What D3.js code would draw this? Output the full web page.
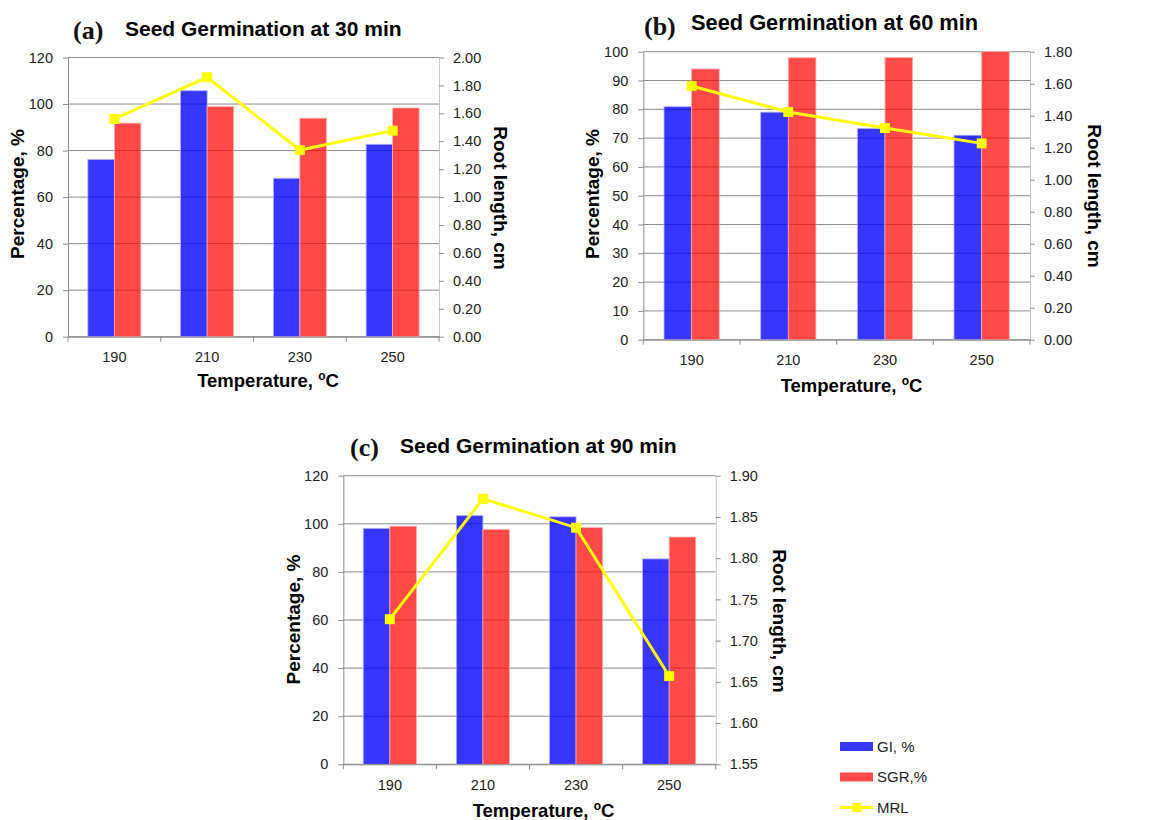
<!DOCTYPE html>
<html>
<head>
<meta charset="utf-8">
<script src="https://cdn.jsdelivr.net/npm/d3@7"></script>
<style>
  html, body { margin: 0; padding: 0; background: #fff; }
  svg { display: block; }
  .tick text { font-family: "Liberation Sans", Arial, sans-serif; font-size: 14.5px; fill: #222; }
</style>
</head>
<body>
<svg id="chart" width="1155" height="820"></svg>
<script>
// Temperatures on the x axis
const temps = ["190", "210", "230", "250"];

// Germination index (GI, %)
const gi30 = [76.2, 105.7, 68.1, 82.7];
const gi60 = [80.9, 79.0, 73.3, 71.0];
const gi90 = [98.1, 103.4, 102.9, 85.4];

// Seed germination rate (SGR, %)
const sgr30 = [91.8, 98.9, 93.9, 98.3];
const sgr60 = [94.0, 97.9, 98.0, 100.0];
const sgr90 = [99.0, 97.7, 98.4, 94.5];

// Mean root length (MRL, cm)
const mrl30 = [1.56, 1.858, 1.337, 1.476];
const mrl60 = [1.586, 1.423, 1.323, 1.227];
const mrl90 = [1.726, 1.872, 1.837, 1.657];

// Axis tick values
const pctTicks120 = [0, 20, 40, 60, 80, 100, 120];
const pctTicks100 = [0, 10, 20, 30, 40, 50, 60, 70, 80, 90, 100];
const rlTicks200 = [0, 0.2, 0.4, 0.6, 0.8, 1.0, 1.2, 1.4, 1.6, 1.8, 2.0];
const rlTicks180 = [0, 0.2, 0.4, 0.6, 0.8, 1.0, 1.2, 1.4, 1.6, 1.8];
const rlTicks190 = [1.55, 1.60, 1.65, 1.70, 1.75, 1.80, 1.85, 1.90];

// Legend entries
const legendNames = ["GI, %", "SGR,%", "MRL"];

const BLUE = "#0000ff", RED = "#ff0000", YELLOW = "#ffff00";
const GRID = "#8c8c8c";
const svg = d3.select("#chart");

const panels = [
  {
    letter: "(a)", title: "Seed Germination at 30 min",
    box: { l: 68, r: 439, t: 57.5, b: 336.7 },
    pctTicks: pctTicks120, rlTicks: rlTicks200, rlFmt: ".2f",
    gi: gi30, sgr: sgr30, mrl: mrl30,
    letterPos: [73, 39], letterSize: 26, titlePos: [125, 35.5], titleSize: 21,
    yTitle: [17.5, 194], rTitle: [501, 198], xTitle: [268, 387]
  },
  {
    letter: "(b)", title: "Seed Germination at 60 min",
    box: { l: 643.3, r: 1030, t: 51.7, b: 339.7 },
    pctTicks: pctTicks100, rlTicks: rlTicks180, rlFmt: ".2f",
    gi: gi60, sgr: sgr60, mrl: mrl60,
    letterPos: [644, 35], letterSize: 26, titlePos: [691, 29.5], titleSize: 21.8,
    yTitle: [592, 194], rTitle: [1095, 196], xTitle: [851.5, 392]
  },
  {
    letter: "(c)", title: "Seed Germination at 90 min",
    box: { l: 343.3, r: 715.7, t: 475.7, b: 764.3 },
    pctTicks: pctTicks120, rlTicks: rlTicks190, rlFmt: ".2f",
    gi: gi90, sgr: sgr90, mrl: mrl90,
    letterPos: [350, 455.5], letterSize: 26, titlePos: [400, 453], titleSize: 21,
    yTitle: [293.5, 619.5], rTitle: [779.5, 621], xTitle: [543.5, 816.5]
  }
];

function drawPanel(p) {
  const g = svg.append("g");
  const { l, r, t, b } = p.box;

  const x = d3.scaleBand().domain(temps).range([l, r]).padding(0);
  const sub = d3.scaleBand().domain(["gi", "sgr"]).range([0, x.bandwidth()])
    .paddingInner(0).paddingOuter(0.75);
  const y = d3.scaleLinear().domain([0, d3.max(p.pctTicks)]).range([b, t]);
  const y2 = d3.scaleLinear().domain(d3.extent(p.rlTicks)).range([b, t]);

  // horizontal gridlines
  g.append("g").selectAll("line").data(p.pctTicks).join("line")
    .attr("x1", l).attr("x2", r)
    .attr("y1", d => y(d)).attr("y2", d => y(d))
    .attr("stroke", GRID).attr("stroke-width", 1);

  // bars
  const rows = temps.map((c, i) => ({ c, gi: p.gi[i], sgr: p.sgr[i] }));
  const grp = g.append("g").selectAll("g").data(rows).join("g")
    .attr("transform", d => `translate(${x(d.c)},0)`);
  grp.append("rect")
    .attr("x", sub("gi")).attr("width", sub.bandwidth())
    .attr("y", d => y(d.gi)).attr("height", d => y(0) - y(d.gi))
    .attr("fill", BLUE).attr("fill-opacity", 0.79)
    .attr("stroke", "#b0b0ff").attr("stroke-width", 0.8);
  grp.append("rect")
    .attr("x", sub("sgr")).attr("width", sub.bandwidth())
    .attr("y", d => y(d.sgr)).attr("height", d => y(0) - y(d.sgr))
    .attr("fill", RED).attr("fill-opacity", 0.71)
    .attr("stroke", "#ffb0b0").attr("stroke-width", 0.8);

  // left axis
  const ax = g.append("g").attr("transform", `translate(${l},0)`)
    .call(d3.axisLeft(y).tickValues(p.pctTicks).tickSize(5).tickSizeOuter(0).tickPadding(10).tickFormat(d3.format("d")));
  ax.select(".domain").attr("stroke", GRID);
  ax.selectAll(".tick line").attr("stroke", GRID);

  // right axis
  const ar = g.append("g").attr("transform", `translate(${r},0)`)
    .call(d3.axisRight(y2).tickValues(p.rlTicks).tickSize(5).tickSizeOuter(0).tickPadding(9).tickFormat(d3.format(p.rlFmt)));
  ar.select(".domain").attr("stroke", "#c8c8c8");
  ar.selectAll(".tick line").attr("stroke", GRID);

  // bottom axis: labels under category centres, ticks on category boundaries
  const ab = g.append("g").attr("transform", `translate(0,${b})`)
    .call(d3.axisBottom(x).tickSize(0).tickPadding(15));
  ab.select(".domain").attr("stroke", GRID);
  const edges = d3.range(temps.length + 1).map(i => x.range()[0] + i * x.step());
  g.append("g").selectAll("line").data(edges).join("line")
    .attr("x1", d => d).attr("x2", d => d)
    .attr("y1", b).attr("y2", b + 5)
    .attr("stroke", GRID);

  // root length line with square markers
  const pts = temps.map((c, i) => [x(c) + x.bandwidth() / 2, y2(p.mrl[i])]);
  g.append("path").attr("d", d3.line()(pts))
    .attr("fill", "none").attr("stroke", YELLOW).attr("stroke-width", 3);
  g.append("g").selectAll("rect").data(pts).join("rect")
    .attr("x", d => d[0] - 5).attr("y", d => d[1] - 5)
    .attr("width", 10).attr("height", 10)
    .attr("fill", YELLOW);

  // titles
  g.append("text").attr("x", p.letterPos[0]).attr("y", p.letterPos[1])
    .attr("font-family", "'Liberation Serif', 'Times New Roman', serif")
    .attr("font-weight", "bold").attr("font-size", p.letterSize).attr("fill", "#111")
    .text(p.letter);
  g.append("text").attr("x", p.titlePos[0]).attr("y", p.titlePos[1])
    .attr("font-family", "'Liberation Sans', Arial, sans-serif")
    .attr("font-weight", "bold").attr("font-size", p.titleSize).attr("fill", "#000")
    .text(p.title);

  const lab = { "font-family": "'Liberation Sans', Arial, sans-serif", "font-weight": "bold", "fill": "#000" };
  const yt = g.append("text")
    .attr("transform", `translate(${p.yTitle[0]},${p.yTitle[1]}) rotate(-90)`)
    .attr("text-anchor", "middle").attr("dy", "0.35em").attr("font-size", 19)
    .text("Percentage, %");
  const rt = g.append("text")
    .attr("transform", `translate(${p.rTitle[0]},${p.rTitle[1]}) rotate(90)`)
    .attr("text-anchor", "middle").attr("dy", "0.35em").attr("font-size", 19)
    .text("Root length, cm");
  const xt = g.append("text")
    .attr("x", p.xTitle[0]).attr("y", p.xTitle[1])
    .attr("text-anchor", "middle").attr("font-size", 18.5);
  xt.append("tspan").text("Temperature, ");
  xt.append("tspan").attr("font-size", 12).attr("dy", -7).text("o");
  xt.append("tspan").attr("dy", 7).text("C");
  [yt, rt, xt].forEach(s => Object.entries(lab).forEach(([k, v]) => s.attr(k, v)));
}

panels.forEach(drawPanel);

// legend beside panel (c)
const lg = svg.append("g").attr("font-family", "'Liberation Sans', Arial, sans-serif");
const legendRows = lg.selectAll("g").data(legendNames).join("g")
  .attr("transform", (d, i) => `translate(840,${746.5 + i * 30.5})`);
legendRows.filter((d, i) => i < 2).append("rect")
  .attr("x", 0).attr("y", -4.5).attr("width", 33).attr("height", 9)
  .attr("fill", (d, i) => i === 0 ? BLUE : RED)
  .attr("fill-opacity", (d, i) => i === 0 ? 0.79 : 0.71);
legendRows.filter((d, i) => i === 2).append("line")
  .attr("x1", 0).attr("x2", 33).attr("y1", 0).attr("y2", 0)
  .attr("stroke", YELLOW).attr("stroke-width", 3);
legendRows.filter((d, i) => i === 2).append("rect")
  .attr("x", 12.5).attr("y", -4.5).attr("width", 9).attr("height", 9)
  .attr("fill", YELLOW);
legendRows.append("text")
  .attr("x", 37).attr("y", 5).attr("font-size", 15).attr("fill", "#222")
  .text(d => d);
</script>
</body>
</html>
